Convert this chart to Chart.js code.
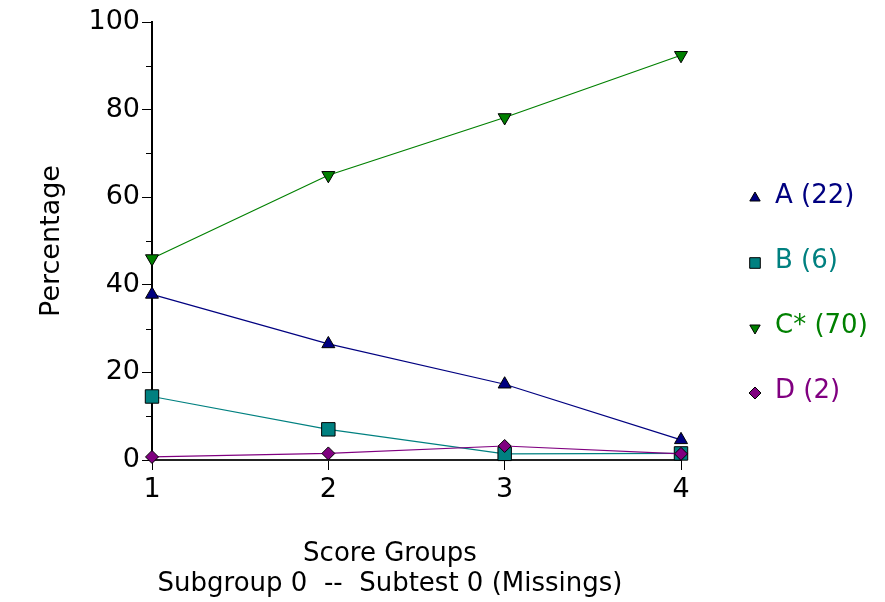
<!DOCTYPE html>
<html>
<head>
<meta charset="utf-8">
<title>Score Groups</title>
<script src="https://cdn.jsdelivr.net/npm/chart.js@4.4.1/dist/chart.umd.min.js"></script>
<style>
    html, body { margin: 0; background: #fff; }
    #wrap { width: 885px; height: 602px; }
</style>
</head>
<body>
<div id="wrap"><canvas id="itemChart"></canvas></div>
<script>
const scoreGroups = ['1', '2', '3', '4'];
const yTickValues = [0, 20, 40, 60, 80, 100];

const optionLabels = ['A (22)', 'B (6)', 'C* (70)', 'D (2)'];
const optionA = [37.8, 26.5, 17.3, 4.6];
const optionB = [14.5, 7.0, 1.4, 1.5];
const optionC = [46.0, 65.0, 78.2, 92.4];
const optionD = [0.7, 1.5, 3.2, 1.4];

const bottomTitle = ['Score Groups', 'Subgroup 0  --  Subtest 0 (Missings)'];

const FONT = 'DejaVu Sans';

function makeSet(label, values, color, style, radius, rotation, order)
{
    return {
        label: label,
        data: values,
        borderColor: color,
        backgroundColor: color,
        borderWidth: 1.2,
        pointStyle: style,
        pointRotation: rotation,
        pointRadius: radius,
        pointHoverRadius: radius,
        pointBorderColor: '#000',
        pointBackgroundColor: color,
        pointBorderWidth: 1,
        tension: 0,
        clip: false,
        order: order
    };
}

// minor y ticks and the legend on the right
const extras = {
    id: 'extras',
    afterDraw(chart)
    {
        const ctx = chart.ctx;
        const y = chart.scales.y;
        const half = (yTickValues[1] - yTickValues[0]) / 2;

        ctx.save();
        ctx.strokeStyle = '#000';
        ctx.lineWidth = 1;
        y.ticks.forEach(t => {
            const v = t.value + half;
            if (v >= y.max) return;
            const py = Math.round(y.getPixelForValue(v)) + 0.5;
            ctx.beginPath();
            ctx.moveTo(y.right - 6, py);
            ctx.lineTo(y.right, py);
            ctx.stroke();
        });

        const markX = chart.chartArea.right + 74;
        const textX = markX + 20;
        const legendSizes = [6, 7.5, 6, 6];
        ctx.font = '26px "' + FONT + '"';
        ctx.textBaseline = 'middle';
        ctx.textAlign = 'left';
        chart.data.datasets.forEach((ds, i) => {
            const ly = 196 + i * 65;
            ctx.fillStyle = ds.backgroundColor;
            ctx.strokeStyle = '#000';
            ctx.lineWidth = 1;
            Chart.helpers.drawPoint(ctx, {
                pointStyle: ds.pointStyle,
                rotation: ds.pointRotation,
                radius: legendSizes[i],
                borderWidth: 1
            }, markX, ly + 2);
            ctx.fillStyle = ds.borderColor;
            ctx.fillText(ds.label, textX, ly);
        });
        ctx.restore();
    }
};

const ctx = document.getElementById('itemChart').getContext('2d');

new Chart(ctx, {
    type: 'line',
    data: {
        labels: scoreGroups,
        datasets: [
            makeSet(optionLabels[0], optionA, '#000080', 'triangle', 7.5, 0, 0),
            makeSet(optionLabels[1], optionB, '#008080', 'rect', 9.5, 0, 2),
            makeSet(optionLabels[2], optionC, '#008000', 'triangle', 7.5, 180, 3),
            makeSet(optionLabels[3], optionD, '#800080', 'rectRot', 6.5, 0, 1)
        ]
    },
    options: {
        responsive: true,
        maintainAspectRatio: false,
        animation: false,
        layout: {
            padding: { top: 22, right: 105, bottom: 0, left: 0 }
        },
        plugins: {
            legend: { display: false },
            tooltip: { enabled: false },
            title: {
                display: true,
                position: 'bottom',
                text: bottomTitle,
                color: '#000',
                font: { family: FONT, size: 26, weight: 'normal', lineHeight: 30 / 26 },
                padding: { top: 33, bottom: 3 }
            }
        },
        scales: {
            x: {
                offset: false,
                grid: { drawOnChartArea: false, tickLength: 10, tickColor: '#000', tickWidth: 1 },
                border: { display: true, color: '#222', width: 2 },
                ticks: {
                    color: '#000',
                    padding: 4,
                    maxRotation: 0,
                    font: { family: FONT, size: 27 }
                },
                afterFit(scale) { scale.height = 46; }
            },
            y: {
                min: yTickValues[0],
                max: yTickValues[yTickValues.length - 1],
                grid: { drawOnChartArea: false, tickLength: 10, tickColor: '#000', tickWidth: 1 },
                border: { display: true, color: '#000', width: 2 },
                ticks: {
                    stepSize: yTickValues[1] - yTickValues[0],
                    color: '#000',
                    padding: 2,
                    font: { family: FONT, size: 27 }
                },
                title: {
                    display: true,
                    text: 'Percentage',
                    color: '#000',
                    font: { family: FONT, size: 27 },
                    padding: { top: 36, bottom: 0 }
                },
                afterFit(scale) { scale.width = 152; }
            },
            side: {
                position: 'right',
                grid: { display: false },
                border: { display: false },
                ticks: { display: false },
                afterFit(scale) { scale.width = 99; }
            }
        }
    },
    plugins: [extras]
});
</script>
</body>
</html>
